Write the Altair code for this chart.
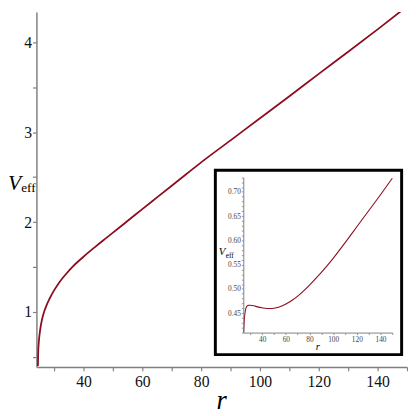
import altair as alt
import pandas as pd

# main curve
r_main = [24.5, 24.6, 24.8, 25.1, 25.5, 26.0, 26.7, 27.5, 28.5, 30, 32, 34, 36.5, 40, 44, 48, 52, 56, 60,
          65, 70, 75, 80, 90, 100, 110, 120, 130, 140, 150]
v_main = [0.40, 0.55, 0.66, 0.76, 0.85, 0.93, 1.01, 1.08, 1.15, 1.24, 1.34, 1.42, 1.51, 1.615, 1.725,
          1.83, 1.935, 2.04, 2.145, 2.275, 2.405, 2.535, 2.665, 2.91, 3.155, 3.40, 3.65, 3.895, 4.145, 4.40]

# inset curve
r_inset = [24.3, 24.6, 25.0, 25.5, 26.2, 27.2, 28.5, 30, 33, 36, 40, 44, 48, 52, 56, 60, 65, 70,
           75, 80, 90, 100, 110, 120, 130, 140, 150]
v_inset = [0.41, 0.425, 0.44, 0.452, 0.46, 0.4645, 0.4662, 0.4665, 0.4652, 0.463, 0.461, 0.4598,
           0.4597, 0.4612, 0.4645, 0.469, 0.476, 0.485, 0.496, 0.508, 0.534, 0.563, 0.595, 0.628,
           0.661, 0.694, 0.728]

main_x_ticks = [30, 40, 50, 60, 70, 80, 90, 100, 110, 120, 130, 140, 150]
main_y_ticks = [0.5, 1, 1.5, 2, 2.5, 3, 3.5, 4]
inset_x_ticks = [30, 40, 50, 60, 70, 80, 90, 100, 110, 120, 130, 140, 150]
inset_y_ticks = [round(0.41 + 0.01 * i, 2) for i in range(33)]

LINE = "#8b0d1e"
AX = "#808080"
FONT = "Times New Roman, Liberation Serif, serif"

df_main = pd.DataFrame({"r": r_main, "V": v_main})
df_inset = pd.DataFrame({"r2": r_inset, "V2": v_inset})
one = pd.DataFrame({"k": [0]})

main = alt.Chart(df_main).mark_line(color=LINE, strokeWidth=1.8, clip=True, interpolate="monotone").encode(
    x=alt.X("r:Q", scale=alt.Scale(domain=[24, 150], nice=False, zero=False),
            axis=alt.Axis(values=main_x_ticks, title=None, grid=False, orient="bottom",
                          labelExpr="datum.value % 20 == 0 ? format(datum.value, 'd') : ''",
                          tickSize=4, labelPadding=3, labelFontSize=16, labelFont=FONT,
                          labelColor="#111", domainColor=AX, tickColor=AX, domainWidth=1.5,
                          tickWidth=1.2)),
    y=alt.Y("V:Q", scale=alt.Scale(domain=[0.389, 4.338], nice=False, zero=False),
            axis=alt.Axis(values=main_y_ticks, title=None, grid=False, orient="left",
                          labelExpr="datum.value % 1 == 0 ? format(datum.value, 'd') : ''",
                          tickSize=4, labelPadding=1, labelFontSize=16, labelFont=FONT,
                          labelColor="#111", domainColor=AX, tickColor=AX, domainWidth=1.5,
                          tickWidth=1.2)),
)

frame = alt.Chart(one).mark_rect(fill="white", stroke="black", strokeWidth=3).encode(
    x=alt.value(182.5), x2=alt.value(372.5), y=alt.value(161.5), y2=alt.value(349.5)
)

inset = alt.Chart(df_inset).mark_line(color=LINE, strokeWidth=1.1, interpolate="monotone").encode(
    x=alt.X("r2:Q", scale=alt.Scale(domain=[24, 150], nice=False, zero=False, range=[211, 363]),
            axis=alt.Axis(values=inset_x_ticks, title=None, grid=False, orient="bottom", offset=-35,
                          labelExpr="datum.value % 20 == 0 ? format(datum.value, 'd') : ''",
                          tickSize=2, labelPadding=1, labelFontSize=7.5, labelFont=FONT,
                          labelColor="#444", domainColor=AX, tickColor=AX, domainWidth=1,
                          tickWidth=0.8, zindex=2)),
    y=alt.Y("V2:Q", scale=alt.Scale(domain=[0.41, 0.73], nice=False, zero=False, range=[327, 168.6]),
            axis=alt.Axis(values=inset_y_ticks, title=None, grid=False, orient="left", offset=-211,
                          labelExpr="round(datum.value*100) % 5 == 0 ? format(datum.value, '.2f') : ''",
                          tickSize=2, labelPadding=1, labelFontSize=7.5, labelFont=FONT,
                          labelColor="#444", domainColor=AX, tickColor=AX, domainWidth=1,
                          tickWidth=0.8, zindex=2)),
)

def txt(s, x, y, size, italic=False, align="left"):
    return alt.Chart(pd.DataFrame({"t": [s]})).mark_text(
        font=FONT, fontSize=size, fontStyle="italic" if italic else "normal",
        align=align, baseline="alphabetic", color="black"
    ).encode(text="t:N", x=alt.value(x), y=alt.value(y))

labels = [
    txt("V", -29, 182, 22, italic=True),
    txt("eff", -15.5, 184, 13.5),
    txt("r", 189, 405, 27, italic=True, align="center"),
    txt("V", 186, 248, 11, italic=True),
    txt("eff", 193, 250.5, 7.5),
    txt("r", 287, 345, 11, italic=True, align="center"),
]

chart = alt.layer(main, frame, inset, *labels).resolve_scale(
    x="independent", y="independent"
).properties(
    width=378, height=362,
    padding={"left": 29, "top": 0, "right": 1, "bottom": 46},
    autosize=alt.AutoSizeParams(type="none"),
).configure_view(stroke=None).configure_axis(labelFont=FONT)

chart.save("out.html", embed_options={"renderer": "svg", "actions": False})
